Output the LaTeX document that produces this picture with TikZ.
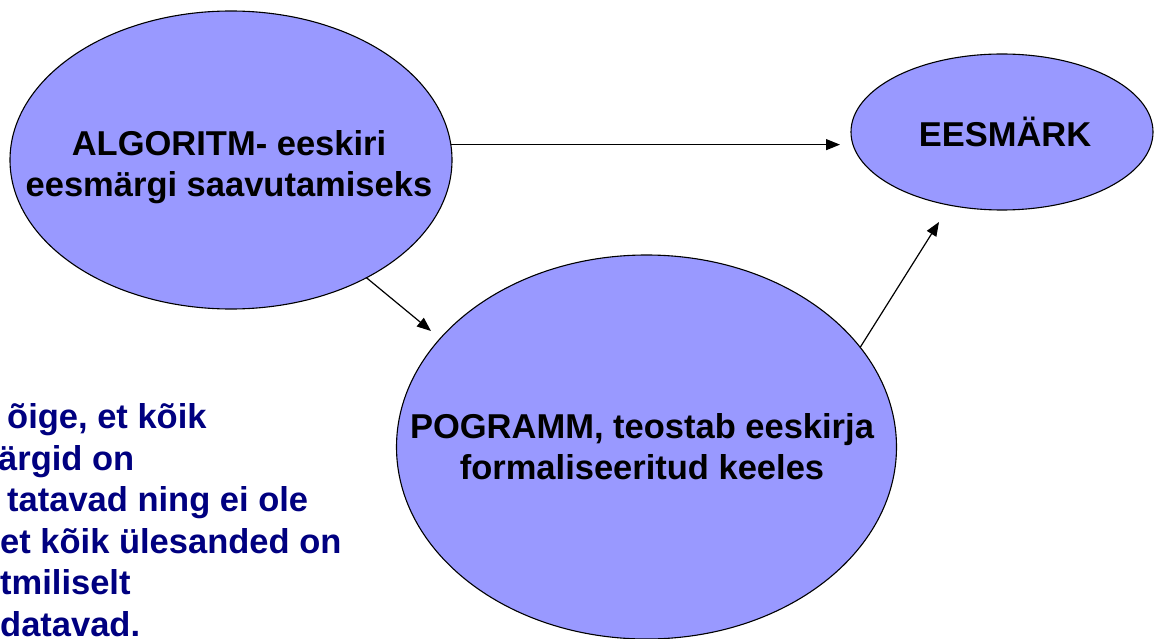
\documentclass[tikz,border=0pt]{standalone}
\usepackage{fontspec}
\setmainfont{Liberation Sans}
\usetikzlibrary{shapes.geometric,arrows.meta}
\definecolor{ellfill}{RGB}{153,153,255}
\definecolor{navytext}{RGB}{0,0,128}
\begin{document}
\begin{tikzpicture}[x=1pt,y=-1pt,
  ell/.style={ellipse,draw=black,line width=1.1pt,fill=ellfill,inner sep=0pt,outer sep=0pt},
  lbl/.style={font=\bfseries\fontsize{34.5}{41}\selectfont,align=center,inner sep=0pt},
  note/.style={font=\bfseries\fontsize{34.5}{41.5}\selectfont,text=navytext,align=left,inner sep=0pt},
  arr/.style={line width=1.2pt,-{Triangle[length=14pt,width=11pt]}}]
\useasboundingbox (0,0) rectangle (1154,639);
\node[ell,minimum width=442pt,minimum height=298pt] (e1) at (231,160) {};
\node[ell,minimum width=302pt,minimum height=156pt] (e2) at (1002,132) {};
\node[ell,minimum width=500pt,minimum height=384pt] (e3) at (646.5,447) {};
\node[lbl] (l1) at (229,167.5) {ALGORITM- eeskiri\\eesmärgi saavutamiseks};
\node[lbl,anchor=base] (l2) at (1005,147) {EESMÄRK};
\node[lbl] (l3) at (642,447) {POGRAMM, teostab eeskirja\\formaliseeritud keeles};
\node[note,anchor=north west] (n) at (0,403.5) {\hspace*{7pt}õige, et kõik\\\hspace*{-2pt}ärgid on\\\hspace*{7pt}tatavad ning ei ole\\et kõik ülesanded on\\tmiliselt\\datavad.};
\coordinate (t2) at (431,331);
\coordinate (t3) at (939,222);
\draw[arr,shorten >=11pt] (e1.4) -- (e2.west |- e1.4);
\draw[arr] (e1.-41) -- (t2);
\draw[arr] (e3.25) -- (t3);
\end{tikzpicture}
\end{document}
